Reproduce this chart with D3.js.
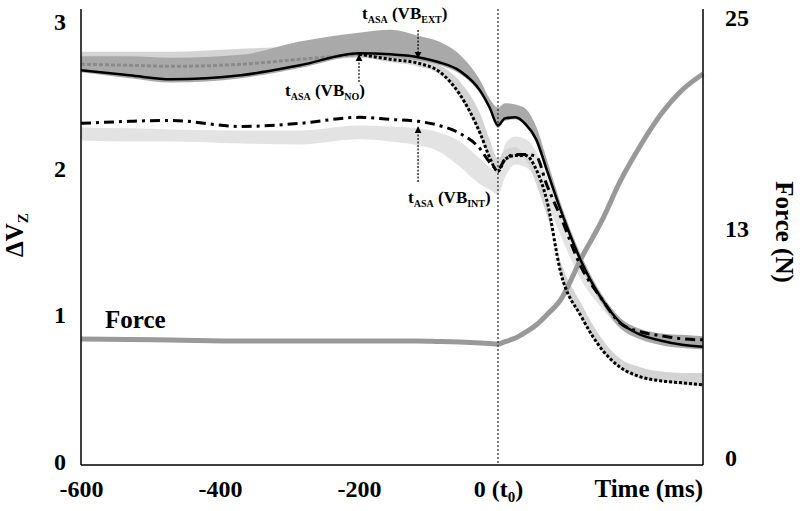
<!DOCTYPE html>
<meta charset="utf-8">
<style>
body { margin: 0; background: #fff; }
svg text { font-family: "Liberation Serif", Tinos, "Times New Roman", Times, serif; font-weight: bold; fill: #000; }
</style>
<svg width="800" height="511"></svg>
<script src="https://d3js.org/d3.v7.min.js"></script>
<script>

// time points (ms)
var times = [-600,-530,-470,-370,-285,-200,-155,-115,-85,-55,-25,-12,0,10,25,40,55,70,90,120,150,175,205,235,265,295];

// delta Vz, VB_EXT (solid)
var vbExt = [2.664,2.63,2.602,2.63,2.698,2.78,2.773,2.753,2.719,2.66,2.52,2.41,2.288,2.336,2.343,2.295,2.193,1.988,1.714,1.359,1.1,0.949,0.861,0.82,0.792,0.779];
var vbExtHi = [2.76,2.76,2.75,2.77,2.86,2.92,2.94,2.90,2.86,2.77,2.59,2.47,2.41,2.44,2.43,2.40,2.28,2.06,1.76,1.40,1.13,0.98,0.90,0.87,0.86,0.85];
var vbExtLo = [2.65,2.61,2.58,2.61,2.68,2.76,2.75,2.73,2.70,2.64,2.50,2.39,2.27,2.32,2.33,2.28,2.17,1.96,1.69,1.33,1.07,0.91,0.83,0.79,0.77,0.76];

// delta Vz, VB_NO (grey dashed before tASA, black dotted after)
var vbNo = [2.705,2.698,2.691,2.705,2.739,2.773,2.739,2.712,2.657,2.5,2.227,2.07,1.974,2.056,2.083,2.083,1.988,1.783,1.291,0.984,0.758,0.642,0.574,0.546,0.533,0.519];
var vbNoHi = [2.79,2.79,2.79,2.81,2.83,2.86,2.81,2.75,2.70,2.59,2.36,2.19,2.06,2.12,2.14,2.06,1.89,1.68,1.36,1.07,0.83,0.70,0.64,0.61,0.60,0.60];
var vbNoLo = [2.68,2.68,2.67,2.68,2.72,2.75,2.72,2.69,2.64,2.48,2.21,2.05,1.96,2.04,2.07,2.07,1.97,1.77,1.28,0.97,0.75,0.63,0.56,0.54,0.52,0.51];

// delta Vz, VB_INT (dash-dot)
var vbInt = [2.302,2.316,2.322,2.281,2.302,2.343,2.329,2.316,2.288,2.234,2.124,2.036,1.988,2.056,2.09,2.09,2.077,1.885,1.667,1.318,1.1,0.943,0.881,0.854,0.833,0.826];
var vbIntHi = [2.274,2.268,2.261,2.254,2.254,2.288,2.281,2.268,2.240,2.179,2.056,2.002,1.975,2.158,2.213,2.193,2.110,1.939,1.700,1.369,1.134,0.977,0.895,0.854,0.840,0.833];
var vbIntLo = [2.186,2.179,2.179,2.165,2.158,2.193,2.179,2.152,2.111,2.008,1.885,1.851,1.817,1.933,2.022,2.002,1.930,1.769,1.540,1.232,1.038,0.905,0.827,0.793,0.772,0.765];

// force (N), right axis
var force = [6.70,6.68,6.65,6.59,6.59,6.59,6.59,6.59,6.56,6.53,6.48,6.45,6.42,6.55,6.76,7.1,7.5,8.07,8.92,11.3,13.47,15.6,17.7,19.5,20.85,21.76];

var yTicks = [0, 1, 2, 3];
var forceTicks = [0, 13, 25];
var xTicks = [-600, -400, -200, 0];
var tAsaNo = -200, tAsaExt = -115, tAsaInt = -115;

var FONT = '"Liberation Serif", Tinos, "Times New Roman", Times, serif';

var svg = d3.select("svg");
var plotTop = 9, plotBottom = 465;

var x = d3.scaleLinear().domain([-600, 295]).range([81, 703]);
var y = d3.scaleLinear().domain([0, 3]).range([461, 21]);
var yF = d3.scaleLinear().domain([0, 25]).range([457, 17]);

function rows(v, lo, hi) {
  return times.map(function(t, i) {
    return {t: t, v: v ? v[i] : null, lo: lo ? lo[i] : null, hi: hi ? hi[i] : null};
  });
}

var area = d3.area()
    .x(function(d) { return x(d.t); })
    .y0(function(d) { return y(d.lo); })
    .y1(function(d) { return y(d.hi); })
    .curve(d3.curveMonotoneX);

var line = d3.line()
    .x(function(d) { return x(d.t); })
    .y(function(d) { return y(d.v); })
    .curve(d3.curveMonotoneX);

// bands
svg.append("path").datum(rows(null, vbIntLo, vbIntHi)).attr("d", area).attr("fill", "#e3e3e3");
svg.append("path").datum(rows(null, vbNoLo, vbNoHi)).attr("fill", "#d4d4d4").attr("d", area);
svg.append("path").datum(rows(null, vbExtLo, vbExtHi)).attr("fill", "#a9a9a9").attr("d", area);

// force line
var forceLine = d3.line()
    .x(function(d) { return x(d.t); })
    .y(function(d) { return yF(d.v); })
    .curve(d3.curveMonotoneX);
svg.append("path").datum(rows(force)).attr("d", forceLine)
    .attr("fill", "none").attr("stroke", "#999").attr("stroke-width", 5);

// t0 line
svg.append("line")
    .attr("x1", x(0)).attr("x2", x(0)).attr("y1", plotTop).attr("y2", plotBottom)
    .attr("stroke", "#000").attr("stroke-width", 1).attr("stroke-dasharray", "2,2");

// VB_NO: grey dashed up to tASA, then black dotted
var noRows = rows(vbNo);
svg.append("path").datum(noRows.filter(function(d) { return d.t <= tAsaNo; })).attr("d", line)
    .attr("fill", "none").attr("stroke", "#8a8a8a").attr("stroke-width", 3).attr("stroke-dasharray", "4,2");
svg.append("path").datum(noRows.filter(function(d) { return d.t >= tAsaNo; })).attr("d", line)
    .attr("fill", "none").attr("stroke", "#000").attr("stroke-width", 3).attr("stroke-dasharray", "3,2");

// VB_INT dash-dot
svg.append("path").datum(rows(vbInt)).attr("d", line)
    .attr("fill", "none").attr("stroke", "#000").attr("stroke-width", 3).attr("stroke-dasharray", "10,5,3,5");

// VB_EXT solid
svg.append("path").datum(rows(vbExt)).attr("d", line)
    .attr("fill", "none").attr("stroke", "#000").attr("stroke-width", 2.5);

// axes frame
svg.append("line").attr("x1", 81).attr("x2", 81).attr("y1", plotTop).attr("y2", plotBottom).attr("stroke", "#000").attr("stroke-width", 1.5);
svg.append("line").attr("x1", 703).attr("x2", 703).attr("y1", plotTop).attr("y2", plotBottom).attr("stroke", "#000").attr("stroke-width", 1.5);
svg.append("line").attr("x1", 81).attr("x2", 703).attr("y1", plotBottom).attr("y2", plotBottom).attr("stroke", "#000").attr("stroke-width", 1.5);

// left axis
var gl = svg.append("g").attr("transform", "translate(66,0)")
    .call(d3.axisLeft(y).tickValues(yTicks).tickSize(0).tickPadding(0).tickFormat(d3.format("d")));
gl.select(".domain").remove();
gl.selectAll("text").attr("dy", "0.35em");

// right axis
var gr = svg.append("g").attr("transform", "translate(725,0)")
    .call(d3.axisRight(yF).tickValues(forceTicks).tickSize(0).tickPadding(0).tickFormat(d3.format("d")));
gr.select(".domain").remove();
gr.selectAll("text").attr("dy", "0.35em");

// bottom axis
var gb = svg.append("g").attr("transform", "translate(0,480)")
    .call(d3.axisBottom(x).tickValues(xTicks).tickSize(0).tickPadding(0).tickFormat(function(d) { return d === 0 ? "" : d; }));
gb.select(".domain").remove();
gb.selectAll("text").attr("dy", "0.71em");
gb.selectAll(".tick").filter(function(d) { return d === 0; }).select("text")
    .call(function(t) {
      t.append("tspan").text("0 (t");
      t.append("tspan").attr("font-size", 15).attr("dy", "5").text("0");
      t.append("tspan").attr("dy", "-5").text(")");
    });
[gl, gr, gb].forEach(function(g) { g.attr("font-family", FONT).attr("font-size", 24); });

svg.append("text").attr("x", 703).attr("y", 497).attr("text-anchor", "end").attr("font-size", 25).text("Time (ms)");

// axis titles
var yt = svg.append("text").attr("transform", "translate(23,235) rotate(-90)").attr("text-anchor", "middle").attr("font-size", 25);
yt.append("tspan").text("ΔV");
yt.append("tspan").attr("font-size", 15).attr("dy", 5).text("Z");

svg.append("text").attr("transform", "translate(776,232) rotate(90)").attr("text-anchor", "middle")
    .attr("font-size", 25).text("Force (N)");

svg.append("text").attr("x", 105).attr("y", 328).attr("font-size", 25).text("Force");

// tASA annotations
function tasa(xPos, yPos, sub) {
  var t = svg.append("text").attr("x", xPos).attr("y", yPos).attr("font-size", 17);
  t.append("tspan").text("t");
  t.append("tspan").attr("font-size", 10).attr("dy", 4).text("ASA");
  t.append("tspan").attr("dy", -4).text(" (VB");
  t.append("tspan").attr("font-size", 10).attr("dy", 4).text(sub);
  t.append("tspan").attr("dy", -4).text(")");
}
tasa(362, 19, "EXT");
tasa(285, 96, "NO");
tasa(408, 203, "INT");

svg.append("defs").append("marker")
    .attr("id", "ah").attr("viewBox", "0 0 10 10").attr("refX", 9).attr("refY", 5)
    .attr("markerWidth", 6).attr("markerHeight", 6).attr("orient", "auto")
  .append("path").attr("d", "M0,0L10,5L0,10z").attr("fill", "#000");

function arrow(t, y1, y2) {
  svg.append("line").attr("x1", x(t)).attr("x2", x(t)).attr("y1", y1).attr("y2", y2)
      .attr("stroke", "#000").attr("stroke-width", 1.2).attr("stroke-dasharray", "2,1.5")
      .attr("marker-end", "url(#ah)");
}
arrow(tAsaExt, 30, 58);
arrow(tAsaNo, 82, 55);
arrow(tAsaInt, 182, 127);

svg.selectAll("text").style("font-family", FONT).style("font-weight", "bold");

</script>
